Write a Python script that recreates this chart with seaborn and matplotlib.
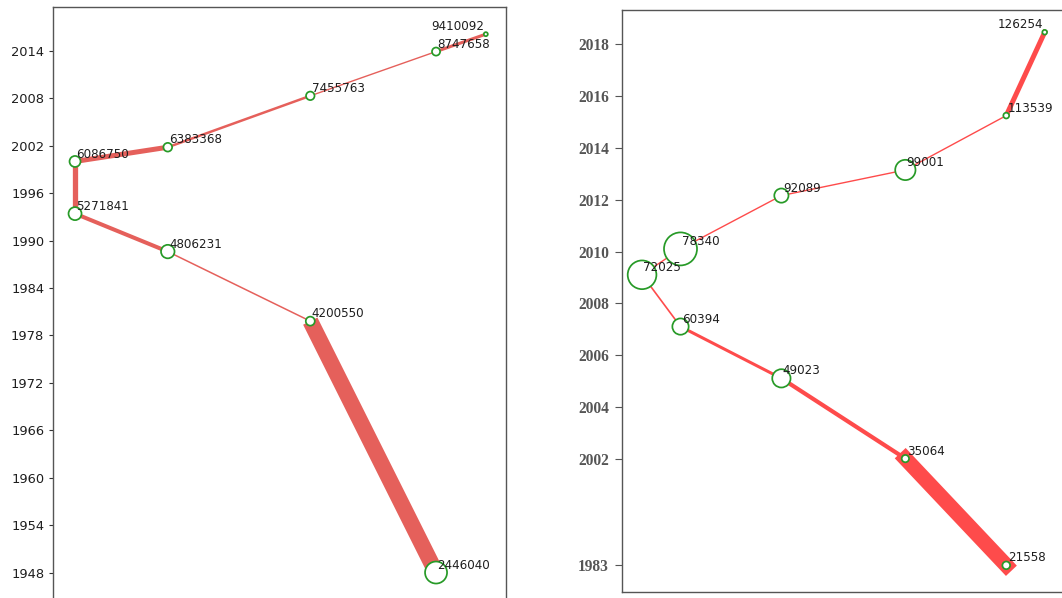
import numpy as np
import pandas as pd
import matplotlib
matplotlib.use("Agg")
import matplotlib.pyplot as plt
import seaborn as sns

# left panel data
left_years = [1948, 1979.8, 1988.6, 1993.4, 2000, 2001.8, 2008.3, 2013.9, 2016.1]
left_pop = [2446040, 4200550, 4806231, 5271841, 6086750, 6383368, 7455763, 8747658, 9410092]
left_x = [8.46, 5.68, 2.53, 0.48, 0.48, 2.53, 5.68, 8.46, 9.56]
left_circle = [22, 9, 13.5, 13, 11, 8.7, 8.5, 8.1, 4]
left_flow = [11.5, 1.1, 2.9, 3.8, 3.6, 1.8, 1.0, 2.2]
left_ticks = list(range(1948, 2015, 6))

# right panel data
right_years = [1983, 2002, 2005.1, 2007.1, 2009.1, 2010.1, 2012.16, 2013.15, 2015.25, 2018.47]
right_pop = [21558, 35064, 49023, 60394, 72025, 78340, 92089, 99001, 113539, 126254]
right_x = [8.50, 6.27, 3.53, 1.30, 0.45, 1.30, 3.53, 6.27, 8.50, 9.35]
right_circle = [7.7, 7.3, 18.3, 16.3, 28.7, 33, 14.2, 20.3, 5.8, 4.7]
right_flow = [10.8, 3.0, 2.2, 1.2, 1.0, 1.0, 1.0, 1.0, 3.6]
right_ticks = [1983, 2002, 2004, 2006, 2008, 2010, 2012, 2014, 2016, 2018]

sns.set_theme(style="ticks")
plt.rcParams["font.family"] = ["DejaVu Sans"]

fig = plt.figure(figsize=(10.62, 5.98), dpi=100)
ax1 = fig.add_axes([0.0502, -0.005, 0.426, 0.9928])
ax2 = fig.add_axes([0.5854, 0.00953, 0.426, 0.9738])

# compressed scale below 2002 on the right panel
K = 0.217


def fwd(y):
    y = np.asarray(y, dtype=float)
    return np.where(y >= 2002, y, 2002 - (2002 - y) * K)


def inv(t):
    t = np.asarray(t, dtype=float)
    return np.where(t >= 2002, t, 2002 - (2002 - t) / K)


ax2.set_yscale("function", functions=(fwd, inv))


def draw_panel(ax, xs, years, pops, circle, flow, line_color, cap):
    for i in range(len(flow)):
        ax.plot(xs[i:i + 2], years[i:i + 2], color=line_color, lw=flow[i],
                solid_capstyle=cap, zorder=2)
    df = pd.DataFrame({"x": xs, "year": years, "area": np.square(circle)})
    a_min = (min(circle) * 0.72) ** 2
    a_max = (max(circle) * 0.72) ** 2
    sns.scatterplot(data=df, x="x", y="year", size="area", sizes=(a_min, a_max),
                    facecolor="white", edgecolor="#279a27", linewidth=1.25,
                    legend=False, ax=ax, zorder=3)
    n = len(pops)
    for i, (x, y, p) in enumerate(zip(xs, years, pops)):
        if i == n - 1:
            ax.annotate(str(p), (x, y), xytext=(-1, 2.8), textcoords="offset points",
                        ha="right", va="baseline", fontsize=8.6, color="#1e1e1e",
                        zorder=4)
        else:
            ax.annotate(str(p), (x, y), xytext=(1, 2.8), textcoords="offset points",
                        ha="left", va="baseline", fontsize=8.6, color="#1e1e1e",
                        zorder=4)


draw_panel(ax1, left_x, left_years, left_pop, left_circle, left_flow, "#e5605b", "butt")
draw_panel(ax2, right_x, right_years, right_pop, right_circle, right_flow, "#fe4b4b", "projecting")

# left axes styling
ax1.set_xlim(0, 10)
ax1.set_ylim(1944.4, 2019.5)
ax1.set_yticks(left_ticks)
ax1.set_xticks([])
ax1.set_xlabel("")
ax1.set_ylabel("")
ax1.tick_params(axis="y", labelsize=9.4, length=3, width=0.8, pad=3.5,
                colors="#333333", labelcolor="#1e1e1e")
for s in ax1.spines.values():
    s.set_color("#555555")
    s.set_linewidth(1.0)
    s.set_visible(True)

# right axes styling
ax2.set_xlim(0, 10)
ax2.set_ylim(1978.2, 2019.33)
ax2.set_yticks(right_ticks)
ax2.set_yticklabels([str(t) for t in right_ticks], family=["Liberation Serif"],
                    fontweight="bold", fontsize=11.2, color="#222222")
ax2.yaxis.set_minor_locator(matplotlib.ticker.NullLocator())
ax2.set_xticks([])
ax2.set_xlabel("")
ax2.set_ylabel("")
ax2.tick_params(axis="y", length=4.8, width=0.8, pad=4.5, colors="#555555")
for s in ax2.spines.values():
    s.set_color("#555555")
    s.set_linewidth(1.0)
    s.set_visible(True)

fig.savefig("out.png", dpi=100)
